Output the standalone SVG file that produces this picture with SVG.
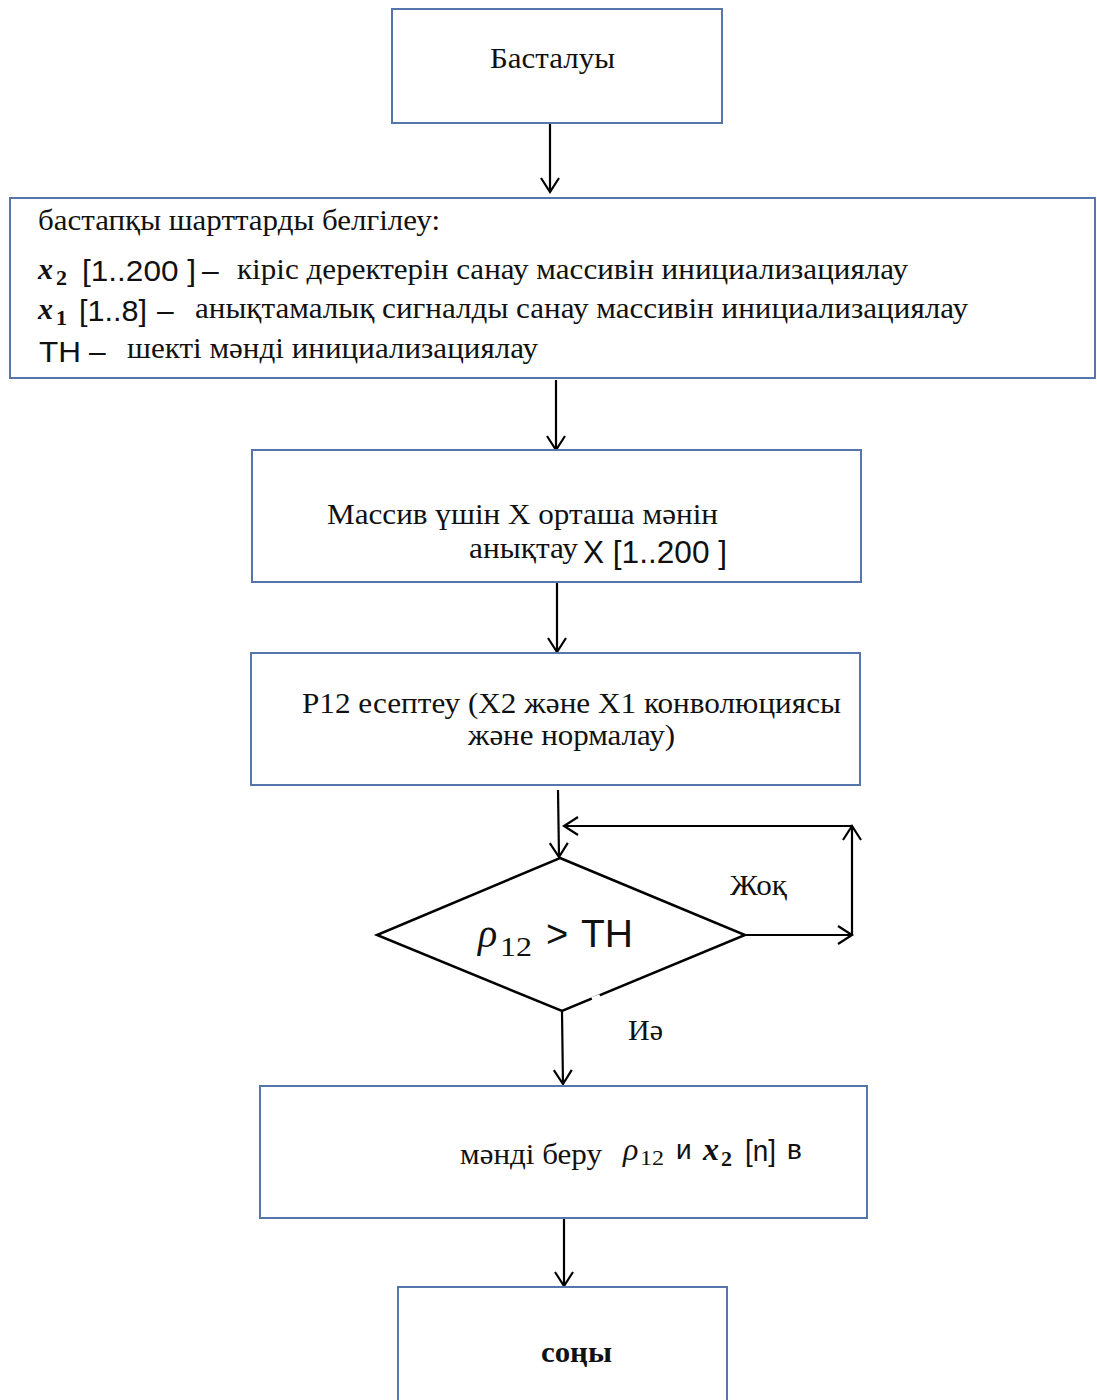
<svg xmlns="http://www.w3.org/2000/svg" width="1097" height="1400" viewBox="0 0 1097 1400">
<defs>
<marker id="arr" markerWidth="24" markerHeight="24" refX="20" refY="10" orient="auto" markerUnits="userSpaceOnUse">
<path d="M6,1 L20,10 L6,19" fill="none" stroke="#000" stroke-width="2.2"/>
</marker>
</defs>
<style>
.box{fill:#fff;stroke:#5476ad;stroke-width:2}
.ser{font-family:"Liberation Serif","Times New Roman",serif;font-size:30px;fill:#111}
.san{font-family:"Liberation Sans",Arial,sans-serif;fill:#111}
.mi{font-family:"Liberation Serif",serif;font-style:italic;fill:#111}
.mb{font-family:"Liberation Serif",serif;font-style:italic;font-weight:bold;fill:#111}
.sub{font-family:"Liberation Serif",serif;fill:#111}
.con{fill:none;stroke:#000;stroke-width:2.2}
</style>
<rect width="1097" height="1400" fill="#fff"/>
<g id="connectors">
<line class="con" x1="550" y1="124" x2="550" y2="192" marker-end="url(#arr)"/>
<line class="con" x1="556" y1="380" x2="556" y2="450" marker-end="url(#arr)"/>
<line class="con" x1="557" y1="583" x2="557" y2="652" marker-end="url(#arr)"/>
<line class="con" x1="558" y1="790" x2="559" y2="857" marker-end="url(#arr)"/>
<line class="con" x1="745" y1="935" x2="852" y2="935" marker-end="url(#arr)"/>
<line class="con" x1="852" y1="935" x2="852" y2="826" marker-end="url(#arr)"/>
<line class="con" x1="852" y1="826" x2="564" y2="826" marker-end="url(#arr)"/>
<line class="con" x1="562" y1="1012" x2="563" y2="1084" marker-end="url(#arr)"/>
<line class="con" x1="564" y1="1219" x2="564" y2="1286" marker-end="url(#arr)"/>
<text class="ser" x="730" y="895" textLength="57" lengthAdjust="spacingAndGlyphs">Жоқ</text>
<text class="ser" x="628" y="1040" textLength="35" lengthAdjust="spacingAndGlyphs">Иә</text>
</g>
<g id="start">
<rect class="box" x="392" y="9" width="330" height="114"/>
<text class="ser" x="490" y="68" textLength="125" lengthAdjust="spacingAndGlyphs">Басталуы</text>
</g>
<g id="init">
<rect class="box" x="10" y="198" width="1085" height="180"/>
<text class="ser" x="38" y="230" textLength="402" lengthAdjust="spacingAndGlyphs">бастапқы шарттарды белгілеу:</text>
<text class="mb" x="38" y="279" font-size="30">x</text>
<text class="sub" x="56" y="285" font-size="22" font-weight="bold">2</text>
<text class="san" x="82" y="281" font-size="30" textLength="114" lengthAdjust="spacingAndGlyphs">[1..200 ]</text>
<text class="san" x="202" y="281" font-size="30">–</text>
<text class="ser" x="237" y="279" textLength="671" lengthAdjust="spacingAndGlyphs">кіріс деректерін санау массивін инициализациялау</text>
<text class="mb" x="38" y="319" font-size="30">x</text>
<text class="sub" x="56" y="325" font-size="22" font-weight="bold">1</text>
<text class="san" x="79" y="321" font-size="30" textLength="68" lengthAdjust="spacingAndGlyphs">[1..8]</text>
<text class="san" x="157" y="321" font-size="30">–</text>
<text class="ser" x="195" y="318" textLength="773" lengthAdjust="spacingAndGlyphs">анықтамалық сигналды санау массивін инициализациялау</text>
<text class="san" x="39" y="362" font-size="30" textLength="42" lengthAdjust="spacingAndGlyphs">TH</text>
<text class="san" x="89" y="362" font-size="30">–</text>
<text class="ser" x="127" y="358" textLength="411" lengthAdjust="spacingAndGlyphs">шекті мәнді инициализациялау</text>
</g>
<g id="mean">
<rect class="box" x="252" y="450" width="609" height="132"/>
<text class="ser" x="327" y="524" textLength="391" lengthAdjust="spacingAndGlyphs">Массив үшін X орташа мәнін</text>
<text class="ser" x="469" y="558" textLength="109" lengthAdjust="spacingAndGlyphs">анықтау</text>
<text class="san" x="583" y="563" font-size="32" textLength="144" lengthAdjust="spacingAndGlyphs">X [1..200 ]</text>
</g>
<g id="calc">
<rect class="box" x="251" y="653" width="609" height="132"/>
<text class="ser" x="302" y="713" textLength="539" lengthAdjust="spacingAndGlyphs">P12 есептеу (X2 және X1 конволюциясы</text>
<text class="ser" x="468" y="745" textLength="207" lengthAdjust="spacingAndGlyphs">және нормалау)</text>
</g>
<g id="decision">
<polygon points="560,858 745,935 562,1011 377,935" fill="#fff" stroke="#000" stroke-width="2.5"/>
<line x1="592" y1="999" x2="600" y2="996" stroke="#fff" stroke-width="4"/>
<text class="mi" x="478" y="947" font-size="40">ρ</text>
<text class="sub" x="500" y="956" font-size="28" textLength="32" lengthAdjust="spacingAndGlyphs">12</text>
<text class="san" x="546" y="947" font-size="38">&gt;</text>
<text class="san" x="581" y="947" font-size="38" textLength="52" lengthAdjust="spacingAndGlyphs">TH</text>
</g>
<g id="output">
<rect class="box" x="260" y="1086" width="607" height="132"/>
<text class="ser" x="460" y="1164" textLength="142" lengthAdjust="spacingAndGlyphs">мәнді беру</text>
<text class="mi" x="623" y="1160" font-size="32">ρ</text>
<text class="sub" x="640" y="1165" font-size="22" textLength="24" lengthAdjust="spacingAndGlyphs">12</text>
<text class="san" x="676" y="1159" font-size="28">и</text>
<text class="mb" x="703" y="1160" font-size="32">x</text>
<text class="sub" x="721" y="1166" font-size="22" font-weight="bold">2</text>
<text class="san" x="745" y="1161" font-size="30" textLength="31" lengthAdjust="spacingAndGlyphs">[n]</text>
<text class="san" x="787" y="1159" font-size="28">в</text>
</g>
<g id="end">
<rect class="box" x="398" y="1287" width="329" height="120"/>
<text class="ser" x="541" y="1362" font-weight="bold" textLength="71" lengthAdjust="spacingAndGlyphs">соңы</text>
</g>
</svg>
